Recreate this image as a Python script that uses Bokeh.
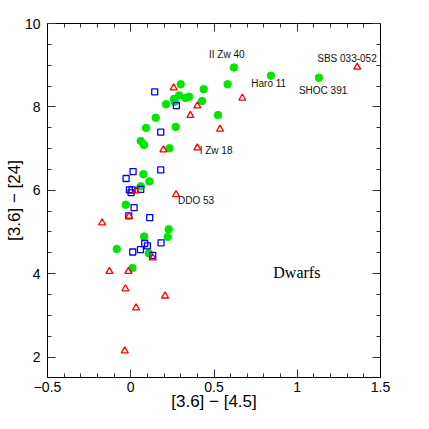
from bokeh.plotting import figure
from bokeh.models import (Range1d, SingleIntervalTicker, LinearAxis,
                          CustomJSTickFormatter, ColumnDataSource)
from bokeh.core.properties import value
from bokeh.embed import file_html
from bokeh.resources import INLINE

# ---- data ----
green_x = [0.62, 0.582, 0.842, 1.13, 0.30, 0.438, 0.29, 0.35, 0.33, 0.26,
           0.428, 0.264, 0.212, 0.524, 0.15, 0.092, 0.27, 0.06, 0.08, 0.232,
           0.076, 0.112, 0.06, -0.03, -0.084, 0.228, 0.222, 0.08, 0.108, 0.01]
green_y = [8.945, 8.543, 8.748, 8.70, 8.543, 8.425, 8.276, 8.244, 8.213, 8.189,
           8.142, 8.126, 8.063, 7.803, 7.74, 7.496, 7.52, 7.181, 7.087, 7.008,
           6.386, 6.213, 6.094, 5.654, 4.591, 5.063, 4.882, 4.89, 4.488, 4.134]

blue_x = [0.144, 0.274, 0.18, 0.18, 0.014, -0.028, -0.008, 0.008, 0.002, 0.06,
          0.02, -0.012, 0.114, 0.182, 0.084, 0.10, 0.058, 0.012, 0.132]
blue_y = [8.362, 8.031, 7.394, 6.488, 6.449, 6.283, 6.008, 6.008, 5.945, 6.024,
          5.583, 5.386, 5.346, 4.740, 4.724, 4.669, 4.575, 4.520, 4.441]

red_x = [1.36, 0.67, 0.258, 0.40, 0.358, 0.536, 0.196, 0.40, 0.272, 0.03,
         -0.01, -0.172, 0.132, -0.128, -0.014, -0.032, 0.206, 0.032, -0.036]
red_y = [8.953, 8.213, 8.457, 8.024, 7.795, 7.465, 6.969, 7.016, 5.898, 5.984,
         5.378, 5.22, 4.378, 4.055, 4.055, 3.638, 3.465, 3.181, 2.15]

label_text = ["II Zw 40", "Haro 11", "SHOC 391", "SBS 033-052", "I Zw 18", "DDO 53"]
label_x = [0.47, 0.724, 1.01, 1.12, 0.414, 0.284]
label_y = [9.26, 8.567, 8.386, 9.165, 6.953, 5.764]

panel_text = ["Dwarfs"]
panel_x = [0.856]
panel_y = [4.04]

x_title = "[3.6] \u2212 [4.5]"
y_title = "[3.6] \u2212 [24]"

# ---- figure ----
p = figure(width=413, height=413, output_backend="svg", toolbar_location=None,
           x_range=Range1d(-0.5, 1.5), y_range=Range1d(1.51, 10),
           min_border_left=47, min_border_right=33, min_border_top=23,
           min_border_bottom=30, x_axis_location=None, y_axis_location=None)
p.xgrid.visible = False
p.ygrid.visible = False
p.outline_line_color = "black"
p.outline_line_width = 1
p.background_fill_color = "white"
p.border_fill_color = "white"

fmt = CustomJSTickFormatter(code="""
const a = Number(Math.abs(tick).toFixed(3)).toString();
return (tick < -1e-9 ? '\u2212' : '') + a;
""")

def style_axis(ax, show_labels):
    ax.major_tick_in = 8
    ax.major_tick_out = 0
    ax.minor_tick_in = 4
    ax.minor_tick_out = 0
    ax.axis_line_color = "black"
    ax.major_tick_line_color = "#333333"
    ax.minor_tick_line_color = "#333333"
    ax.major_tick_line_width = 1
    ax.minor_tick_line_width = 1
    if show_labels:
        ax.formatter = fmt
        ax.major_label_text_font = "Liberation Sans"
        ax.major_label_text_font_size = "14px"
        ax.major_label_text_color = "black"
        ax.axis_label_text_font = "Liberation Sans"
        ax.axis_label_text_font_size = "17px"
        ax.axis_label_text_font_style = "normal"
        ax.axis_label_text_color = "black"
    else:
        ax.major_label_text_color = None
        ax.major_label_standoff = 0

xb = LinearAxis(ticker=SingleIntervalTicker(interval=0.5, num_minor_ticks=5),
                axis_label=x_title)
style_axis(xb, True)
xb.major_label_standoff = 4
xb.axis_label_standoff = -3
p.add_layout(xb, "below")

yl = LinearAxis(ticker=SingleIntervalTicker(interval=2, num_minor_ticks=4),
                axis_label=y_title)
style_axis(yl, True)
yl.major_label_standoff = 7
yl.axis_label_standoff = -2
p.add_layout(yl, "left")

xt = LinearAxis(ticker=SingleIntervalTicker(interval=0.5, num_minor_ticks=5))
style_axis(xt, False)
p.add_layout(xt, "above")

yr = LinearAxis(ticker=SingleIntervalTicker(interval=2, num_minor_ticks=4))
style_axis(yr, False)
p.add_layout(yr, "right")

# ---- glyphs ----
p.scatter(green_x, green_y, marker="circle", size=7.5,
          fill_color="#00e600", line_color="#00e600")
p.scatter(blue_x, blue_y, marker="square", size=6, fill_color=None,
          line_color="blue", line_width=1.3)
p.scatter(red_x, red_y, marker="triangle", size=7, fill_color=None,
          line_color="red", line_width=1.3)

lab_src = ColumnDataSource(dict(x=label_x, y=label_y, t=label_text))
p.text(x="x", y="y", text="t", source=lab_src, text_align="left",
       text_baseline="middle", text_font=value("Liberation Sans"),
       text_font_size="10px", text_color="#111111")

pan_src = ColumnDataSource(dict(x=panel_x, y=panel_y, t=panel_text))
p.text(x="x", y="y", text="t", source=pan_src, text_align="left",
       text_baseline="middle", text_font=value("Liberation Serif"),
       text_font_size="16px", text_color="black")

open("out.html", "w").write(file_html(p, INLINE))
